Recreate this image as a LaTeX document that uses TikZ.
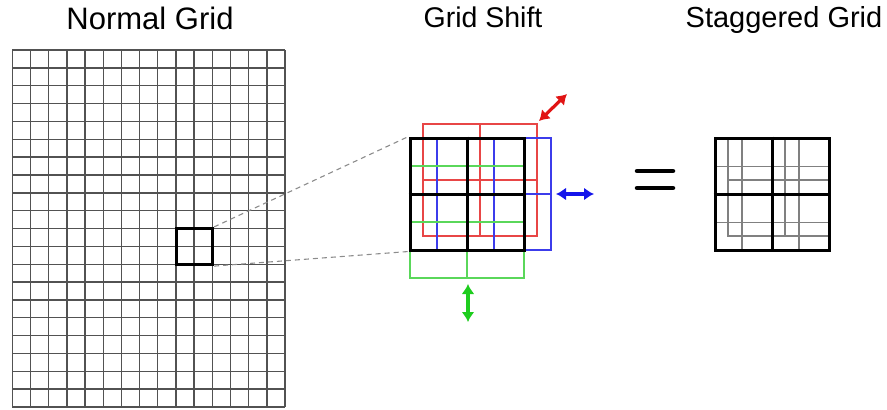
\documentclass[tikz,border=0pt]{standalone}
\usepackage{fontspec}
\setmainfont{Liberation Sans}
\usetikzlibrary{arrows.meta}
\definecolor{shred}{RGB}{232,70,70}
\definecolor{shblue}{RGB}{60,60,235}
\definecolor{shgreen}{RGB}{90,215,90}
\definecolor{arred}{RGB}{225,20,20}
\definecolor{arblue}{RGB}{20,20,235}
\definecolor{argreen}{RGB}{30,205,30}
\newcommand\quadgrid[3]{%
  \draw[#3] ({#1-57},{#2-56}) rectangle ({#1+57},{#2+56});
  \draw[#3] (#1,{#2-56}) -- (#1,{#2+56});
  \draw[#3] ({#1-57},#2) -- ({#1+57},#2);}
\begin{document}
\begin{tikzpicture}[x=1pt,y=-1pt,
  title/.style={anchor=base,inner sep=0pt},
  gridline/.style={black!68,line width=1.4pt},
  bigbox/.style={draw,line width=3pt,minimum width=114pt,minimum height=112pt,inner sep=0pt},
  thinshift/.style={line width=1.1pt},
  stagline/.style={black!50,line width=1.1pt},
  arrowstyle/.style={line width=3.2pt,{Latex[length=10pt,width=13pt]}-{Latex[length=10pt,width=13pt]}},
  connector/.style={black!45,line width=1.1pt,dash pattern=on 5pt off 4pt}]
\useasboundingbox (0,0) rectangle (887,410);
% titles
\node[title,font=\fontsize{31}{33}\selectfont] (t1) at (150,29.5) {Normal Grid};
\node[title,font=\fontsize{28.5}{30}\selectfont] (t2) at (483,27) {Grid Shift};
\node[title,font=\fontsize{29}{30}\selectfont] (t3) at (784,27) {Staggered Grid};
% normal grid
\foreach \i in {0,...,15} \draw[gridline] ({12.3+18.18*\i},50) -- ({12.3+18.18*\i},407);
\foreach \j in {0,...,20} \draw[gridline] (12.3,{50+17.85*\j}) -- (285,{50+17.85*\j});
\node[draw,line width=3.2pt,minimum width=36pt,minimum height=36pt,inner sep=0pt] (zoombox) at (194.5,246.5) {};
% grid shift
\quadgrid{480}{180}{shred,thinshift}
\quadgrid{494}{194}{shblue,thinshift}
\quadgrid{467}{222}{shgreen,thinshift}
\node[bigbox] (shiftbox) at (467,194) {};
\draw[line width=3pt] (shiftbox.north) -- (shiftbox.south);
\draw[line width=3pt] (shiftbox.west) -- (shiftbox.east);
\draw[connector] (zoombox.north east) -- (shiftbox.north west);
\draw[connector] (zoombox.south east) -- (shiftbox.south west);
% arrows
\coordinate (ra) at (539,121); \coordinate (rb) at (567,94);
\coordinate (ba) at (556,194); \coordinate (bb) at (594,194);
\coordinate (ga) at (468,284); \coordinate (gb) at (468,322);
\draw[arrowstyle,arred] (ra) -- (rb);
\draw[arrowstyle,arblue] (ba) -- (bb);
\draw[arrowstyle,argreen] (ga) -- (gb);
% equals
\draw[line width=4.5pt,line cap=round] (637,171) -- (673,171);
\draw[line width=4.5pt,line cap=round] (637,188) -- (673,188);
% staggered grid
\begin{scope}
\clip (715,138) rectangle (829,250);
\quadgrid{785}{180}{stagline}
\quadgrid{799}{194}{stagline,line width=1.5pt}
\quadgrid{772}{222}{stagline,line width=0.9pt}
\end{scope}
\node[bigbox] (stagbox) at (772,194) {};
\draw[line width=3pt] (stagbox.north) -- (stagbox.south);
\draw[line width=3pt] (stagbox.west) -- (stagbox.east);
\end{tikzpicture}
\end{document}
